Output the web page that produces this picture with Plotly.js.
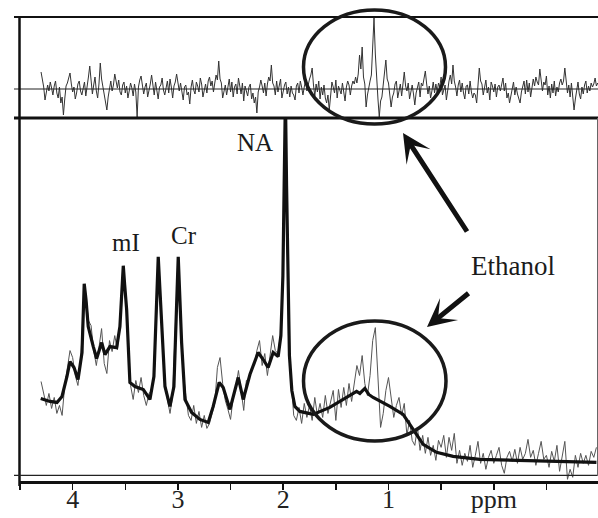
<!DOCTYPE html>
<html><head><meta charset="utf-8">
<script src="https://cdn.plot.ly/plotly-3.0.1.min.js"></script>
<style>html,body{margin:0;padding:0;background:#fff}</style>
</head><body><div id="chart" style="width:598px;height:518px"></div>
<script>
// Fitted spectrum (thick line): chemical shift (ppm) and intensity (a.u.)
const fitPpm = [4.303,4.215,4.149,4.101,4.054,4.025,3.987,3.949,3.911,3.902,3.890,3.873,3.852,3.804,3.772,3.724,3.693,3.646,3.582,3.551,
  3.532,3.519,3.506,3.487,3.456,3.408,3.329,3.266,3.228,3.204,3.187,3.171,3.155,3.123,3.076,3.038,3.014,2.997,2.981,2.965,
  2.933,2.870,2.791,2.712,2.665,2.608,2.570,2.506,2.427,2.380,2.316,2.238,2.190,2.143,2.095,2.048,2.022,2.003,1.991,1.979,
  1.968,1.955,1.941,1.918,1.889,1.842,1.715,1.557,1.398,1.303,1.272,1.225,1.187,1.146,0.987,0.861,0.766,0.671,0.544,0.386,
  0.133,-0.183,-0.500,-0.975];
const fitInt = [77,74,73,79,99,114,108,96,123,161,192,176,149,129,117,133,121,129,128,149,
  191,210,191,166,93,89,86,76,99,166,219,186,149,89,69,89,166,219,176,133,
  76,63,56,53,69,93,88,66,98,76,101,123,116,108,123,119,140,200,290,380,
  290,180,120,85,69,64,61,68,78,84,82,87,81,78,69,61,46,31,23,19,
  16,15,14,13];

// Measured spectrum (thin line), sampled from 4.30 ppm in steps of 0.025 ppm
const dataStart = 4.30, dataStep = 0.025;
const dataInt = [94,80,70,82,67,78,62,70,60,90,
  110,125,118,100,90,112,165,182,155,150,
  125,110,128,147,112,102,135,124,140,126,
  150,205,185,135,90,76,95,83,98,80,
  70,82,85,100,170,200,140,95,76,62,
  80,140,215,160,104,80,60,55,70,52,
  64,48,60,47,52,62,72,108,118,92,
  75,66,56,78,88,105,86,65,95,96,
  108,110,125,135,110,122,100,118,140,125,
  122,142,196,380,140,95,60,55,68,52,
  72,58,70,55,78,60,72,58,80,62,
  75,85,55,86,68,88,70,92,74,95,
  110,100,120,92,80,100,135,148,95,48,
  62,85,98,75,58,70,78,60,72,40,
  55,35,30,48,25,40,22,38,20,30,
  15,35,28,40,18,38,25,42,12,25,
  10,22,14,30,8,20,34,12,22,6,
  18,25,12,20,28,10,2,18,24,14,
  26,12,28,16,22,36,18,25,10,22,
  34,16,20,8,24,14,30,4,18,34,
  -4,6,-2,20,8,22,12,20,10,24,
  18,28];

// Residual (top panel), sampled from 4.30 ppm in steps of 0.0125 ppm
const resStart = 4.30, resStep = 0.0125;
const residual = [
  17,9,2,-11,-3,4,-2,7,1,-6,3,8,-4,-9,2,-14,-8,-26,-10,3,
  6,10,16,5,-3,2,-10,-4,5,8,-2,-6,3,7,-7,1,12,23,6,-5,
  4,12,-2,-9,5,26,10,2,-6,-12,-21,-8,3,8,-2,4,15,6,1,9,
  -3,-6,4,7,-4,3,-9,-2,6,1,-7,5,-3,-28,2,9,13,4,-5,2,
  6,-8,-2,5,14,3,-6,7,-3,-10,2,4,11,-1,-6,3,8,-4,10,2,
  -9,3,7,15,4,-2,6,-5,-11,2,4,-6,-3,-15,2,9,-1,-5,7,3,
  -3,11,5,-8,-2,5,-4,8,12,3,8,-3,6,14,9,28,10,6,-9,-2,
  4,-6,3,10,-3,7,-8,2,5,-5,11,2,-5,6,-12,3,-4,-7,2,5,
  -10,-4,-14,-8,-24,-3,2,9,3,-4,6,-7,5,12,8,24,6,3,-6,8,
  -3,4,10,-9,-2,4,7,-5,2,-8,3,-4,-6,-11,3,6,-4,8,2,-6,
  2,9,-2,5,10,14,21,4,-7,5,-3,8,-10,2,-6,4,-9,-14,-6,-21,
  -6,7,2,-4,9,-9,3,-2,-5,6,-3,-12,2,8,4,-6,3,8,5,12,
  6,15,34,20,42,12,5,-18,-6,3,8,14,40,71,35,6,-10,-28,-12,-8,
  4,14,29,10,6,-6,-18,-8,-4,5,8,-9,-2,5,-7,6,17,3,-2,6,
  -10,-3,4,-5,-16,-4,2,7,-8,6,3,10,18,5,-5,3,-9,-2,7,-4,
  5,-3,6,2,12,-6,-2,4,-11,2,8,14,5,24,8,2,-7,4,9,-3,
  6,-4,-10,3,4,-5,8,-3,-9,-4,-6,-14,6,21,8,5,-6,3,9,-4,
  2,-11,7,3,-3,5,-8,2,4,-2,6,11,-2,6,-9,-4,-14,-6,3,7,
  -6,2,-5,-10,-14,-3,2,8,-5,9,-3,6,-8,4,10,3,12,7,4,20,
  6,-2,7,4,13,-6,3,-9,5,-4,8,-7,2,-3,6,10,4,8,21,5,
  -4,4,-8,6,-12,-21,-10,-3,7,-5,-10,2,-5,4,8,-4,3,-2,6,2,
  5,11,3,6];

const tickPpm = [4.5,4,3.5,3,2.5,2,1.5,1,0.5,0,-0.5];
const tickText = ['','4','','3','','2','','1','','ppm',''];
const peakLabels = ['NA','mI','Cr'];
const ethanolLabel = 'Ethanol';

const dataPpm = dataInt.map((_, i) => +(dataStart - i*dataStep).toFixed(4));
const resPpm = residual.map((_, i) => +(resStart - i*resStep).toFixed(4));

// layout helpers: pixel -> paper
const L = 20, T = 17, W = 578, H = 464;
const px = x => (x - L)/W;
const py = y => (T + H - y)/H;
const FONT = "'Liberation Serif', 'Times New Roman', serif";
const divY = py(118);

const traces = [
  {x: resPpm, y: residual, xaxis:'x', yaxis:'y2', mode:'lines', line:{color:'#333', width:1}, hoverinfo:'skip'},
  {x: dataPpm, y: dataInt, xaxis:'x', yaxis:'y', mode:'lines', line:{color:'#555', width:1}, hoverinfo:'skip'},
  {x: fitPpm, y: fitInt, xaxis:'x', yaxis:'y', mode:'lines', line:{color:'#111', width:3.2}, hoverinfo:'skip'}
];

const ln = (x0,y0,x1,y1,w,c,xr,yr) => ({type:'line', xref:xr||'paper', yref:yr||'paper', x0, y0, x1, y1, line:{color:c||'#111', width:w}});

const shapes = [
  ln(px(14), 1, 1, 1, 2),
  ln(px(14), 0, 1, 0, 1.2, '#222', 'paper', 'y2'),
  ln(px(14), divY, 1, divY, 3),
  ln(px(19.5), py(486), px(19.5), 1, 2.5),
  ln(px(14), 0, 1, 0, 1.2, '#222', 'paper', 'y'),
  ln(px(597.5), py(476), px(597.5), divY, 1, '#666'),
  {type:'circle', xref:'paper', yref:'paper', x0:px(303.5), x1:px(445.5), y0:py(124), y1:py(10), line:{color:'#1a1a1a', width:3.5}},
  {type:'circle', xref:'paper', yref:'paper', x0:px(303.5), x1:px(446), y0:py(441), y1:py(321), line:{color:'#1a1a1a', width:3.5}}
];

const txt = (t, x, y, s) => ({text:t, xref:'paper', yref:'paper', x:px(x), y:py(y), xanchor:'center', yanchor:'middle', showarrow:false, font:{family:FONT, size:s, color:'#1a1a1a'}});
const arrow = (tx, ty, ax, ay) => ({text:'', xref:'paper', yref:'paper', x:px(tx), y:py(ty), ax, ay, showarrow:true, arrowhead:3, arrowsize:0.95, arrowwidth:5, arrowcolor:'#111', standoff:0});

const annotations = [
  txt(peakLabels[0], 255, 142, 25),
  txt(peakLabels[1], 126, 243, 25),
  txt(peakLabels[2], 184, 235, 25),
  txt(ethanolLabel, 513, 266, 27),
  arrow(403, 133, 65, 100),
  arrow(427, 327, 43, -35)
];

const layout = {
  width:598, height:518,
  margin:{l:L, r:0, t:T, b:518-T-H, pad:0},
  paper_bgcolor:'#fff', plot_bgcolor:'#fff',
  showlegend:false,
  xaxis:{range:[4.5,-0.99], tickvals:tickPpm, ticktext:tickText, ticks:'outside', ticklen:6, tickwidth:1.5, tickcolor:'#111',
    showline:true, linewidth:2.5, linecolor:'#111', showgrid:false, zeroline:false, ticklabelstandoff:-13,
    tickfont:{family:FONT, size:26, color:'#222'}, anchor:'y'},
  yaxis:{domain:[0, divY], range:[-5.7, 358], showgrid:false, zeroline:false, showticklabels:false, showline:false, ticks:''},
  yaxis2:{domain:[divY, 1], range:[-29, 72], showgrid:false, zeroline:false, showticklabels:false, showline:false, ticks:'', anchor:'x'},
  shapes, annotations
};

Plotly.newPlot('chart', traces, layout, {staticPlot:true, displayModeBar:false});
</script></body></html>
